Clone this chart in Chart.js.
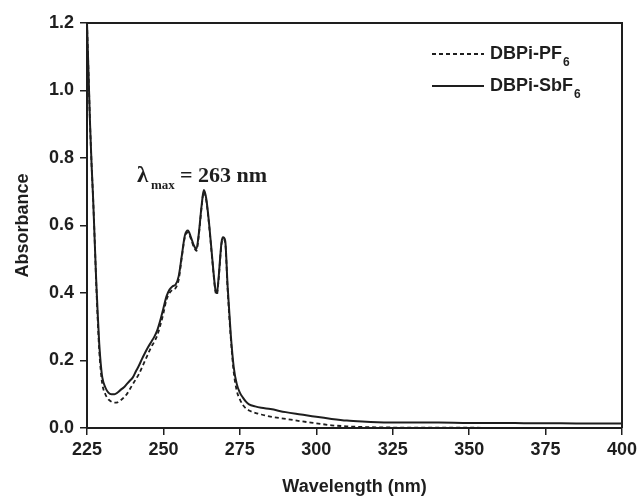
<!DOCTYPE html>
<html>
<head>
<meta charset="utf-8">
<script src="https://cdn.jsdelivr.net/npm/chart.js@4.4.1/dist/chart.umd.min.js"></script>
<style>
  body { margin: 0; background: #fff; }
  canvas { display: block; }
</style>
</head>
<body>
<canvas id="uvChart" width="642" height="498"></canvas>
<script>
// Spectre UV-vis
const wavelengths = [225, 225.5, 226, 226.5, 227, 227.5, 228, 228.5, 229, 229.5, 230, 231, 232, 233, 234, 235, 236, 237, 238, 239, 240,
  241, 242, 243, 244, 245, 246, 247, 248, 249, 250, 251, 252, 253, 254, 255, 256, 257, 258, 259, 260, 260.8, 261.5, 262.5, 263.2,
  264, 265, 266, 267, 267.5, 268, 269, 269.5, 270.2, 271, 272, 273, 274, 275, 276, 277, 278, 280, 282, 285, 290, 295, 300, 305,
  310, 315, 320, 330, 340, 350, 360, 370, 380, 390, 400];

const absSbF6 = [1.20, 1.05, 0.90, 0.78, 0.68, 0.56, 0.44, 0.34, 0.25, 0.19, 0.15, 0.12, 0.105, 0.10, 0.10, 0.105, 0.113, 0.12, 0.13, 0.14, 0.15,
  0.168, 0.185, 0.205, 0.223, 0.24, 0.255, 0.27, 0.29, 0.32, 0.355, 0.39, 0.41, 0.42, 0.425, 0.45, 0.51, 0.57, 0.585, 0.565, 0.54, 0.53, 0.57, 0.66, 0.705,
  0.68, 0.60, 0.50, 0.41, 0.40, 0.44, 0.55, 0.565, 0.555, 0.42, 0.28, 0.18, 0.13, 0.105, 0.09, 0.078, 0.07, 0.064, 0.06, 0.056, 0.047, 0.04, 0.033, 0.027,
  0.022, 0.019, 0.017, 0.016, 0.016, 0.015, 0.015, 0.014, 0.014, 0.013, 0.013];

const absPF6 = [1.20, 1.05, 0.90, 0.78, 0.68, 0.56, 0.43, 0.32, 0.23, 0.17, 0.13, 0.10, 0.085, 0.078, 0.075, 0.076, 0.082, 0.09, 0.10, 0.115, 0.13,
  0.145, 0.16, 0.18, 0.20, 0.22, 0.24, 0.255, 0.275, 0.305, 0.34, 0.38, 0.40, 0.41, 0.415, 0.44, 0.505, 0.565, 0.58, 0.56, 0.535, 0.525, 0.565, 0.655, 0.70,
  0.675, 0.595, 0.495, 0.405, 0.395, 0.435, 0.545, 0.56, 0.55, 0.41, 0.27, 0.165, 0.11, 0.085, 0.068, 0.058, 0.052, 0.045, 0.04, 0.034, 0.027, 0.02, 0.014, 0.008,
  0.005, 0.003, 0.002, 0.001, 0.001, 0.001, 0.0, 0.0, 0.0, 0.0, 0.0];

const seriesNames = ['DBPi-PF', 'DBPi-SbF'];
const xTicks = [225, 250, 275, 300, 325, 350, 375, 400];
const yTicks = [0.0, 0.2, 0.4, 0.6, 0.8, 1.0, 1.2];

const ink = '#1e1e1e';

function toPoints(values) {
  return wavelengths.map((w, i) => ({ x: w, y: values[i] }));
}

// Cadre, légende et annotation dessinés à la main (indices)
const decorPlugin = {
  id: 'decor',
  afterDatasetsDraw(chart) {
    const { ctx, chartArea } = chart;
    ctx.save();
    ctx.strokeStyle = ink;
    ctx.lineWidth = 2;
    ctx.beginPath();
    ctx.moveTo(chartArea.left, chartArea.top);
    ctx.lineTo(chartArea.right, chartArea.top);
    ctx.lineTo(chartArea.right, chartArea.bottom);
    ctx.stroke();

    // légende
    const rows = [
      { y: 54, dash: [4, 3], name: seriesNames[0] },
      { y: 86, dash: [], name: seriesNames[1] }
    ];
    ctx.fillStyle = ink;
    ctx.textBaseline = 'middle';
    rows.forEach(r => {
      ctx.setLineDash(r.dash);
      ctx.lineWidth = 1.8;
      ctx.beginPath();
      ctx.moveTo(432, r.y);
      ctx.lineTo(484, r.y);
      ctx.stroke();
      ctx.setLineDash([]);
      ctx.font = 'bold 18px "Liberation Sans", Arial, sans-serif';
      ctx.textAlign = 'left';
      ctx.fillText(r.name, 490, r.y);
      const w = ctx.measureText(r.name).width;
      ctx.font = 'bold 12px "Liberation Sans", Arial, sans-serif';
      ctx.fillText('6', 490 + w + 1, r.y + 9);
    });

    // annotation λmax
    ctx.textBaseline = 'alphabetic';
    ctx.font = 'bold 23px "Liberation Serif", "Times New Roman", serif';
    ctx.fillText('λ', 137, 182);
    ctx.font = 'bold 13px "Liberation Serif", "Times New Roman", serif';
    ctx.fillText('max', 151, 189);
    ctx.font = 'bold 22px "Liberation Serif", "Times New Roman", serif';
    ctx.fillText('= 263 nm', 180, 182);
    ctx.restore();
  }
};

const ctx = document.getElementById('uvChart').getContext('2d');
new Chart(ctx, {
  type: 'line',
  data: {
    datasets: [
      {
        label: seriesNames[0],
        data: toPoints(absPF6),
        borderColor: ink,
        borderWidth: 1.8,
        borderDash: [4, 3],
        pointRadius: 0,
        cubicInterpolationMode: 'monotone'
      },
      {
        label: seriesNames[1],
        data: toPoints(absSbF6),
        borderColor: ink,
        borderWidth: 2,
        pointRadius: 0,
        cubicInterpolationMode: 'monotone'
      }
    ]
  },
  options: {
    responsive: false,
    animation: false,
    layout: { padding: { top: 23, right: 20, left: 0, bottom: 0 } },
    plugins: {
      legend: { display: false },
      tooltip: { enabled: false }
    },
    scales: {
      x: {
        type: 'linear',
        min: 225,
        max: 400,
        afterFit: scale => { scale.height = 70; },
        afterBuildTicks: scale => { scale.ticks = xTicks.map(v => ({ value: v })); },
        ticks: {
          color: ink,
          padding: 4,
          maxRotation: 0,
          font: { family: '"Liberation Sans", Arial, sans-serif', size: 18, weight: 'bold' }
        },
        grid: { drawOnChartArea: false, tickLength: 7, color: ink, lineWidth: 1.5 },
        border: { display: true, color: ink, width: 2 },
        title: {
          display: true,
          text: 'Wavelength (nm)',
          color: ink,
          padding: { top: 0, bottom: 0 },
          font: { family: '"Liberation Sans", Arial, sans-serif', size: 18, weight: 'bold' }
        }
      },
      y: {
        min: 0,
        max: 1.2,
        afterFit: scale => { scale.width = 87; },
        afterBuildTicks: scale => { scale.ticks = yTicks.map(v => ({ value: v })); },
        ticks: {
          color: ink,
          padding: 6,
          callback: v => Number(v).toFixed(1),
          font: { family: '"Liberation Sans", Arial, sans-serif', size: 18, weight: 'bold' }
        },
        grid: { drawOnChartArea: false, tickLength: 7, color: ink, lineWidth: 1.5 },
        border: { display: true, color: ink, width: 2 },
        title: {
          display: true,
          text: 'Absorbance',
          color: ink,
          padding: { top: 12, bottom: 0 },
          font: { family: '"Liberation Sans", Arial, sans-serif', size: 18, weight: 'bold' }
        }
      }
    }
  },
  plugins: [decorPlugin]
});
</script>
</body>
</html>
